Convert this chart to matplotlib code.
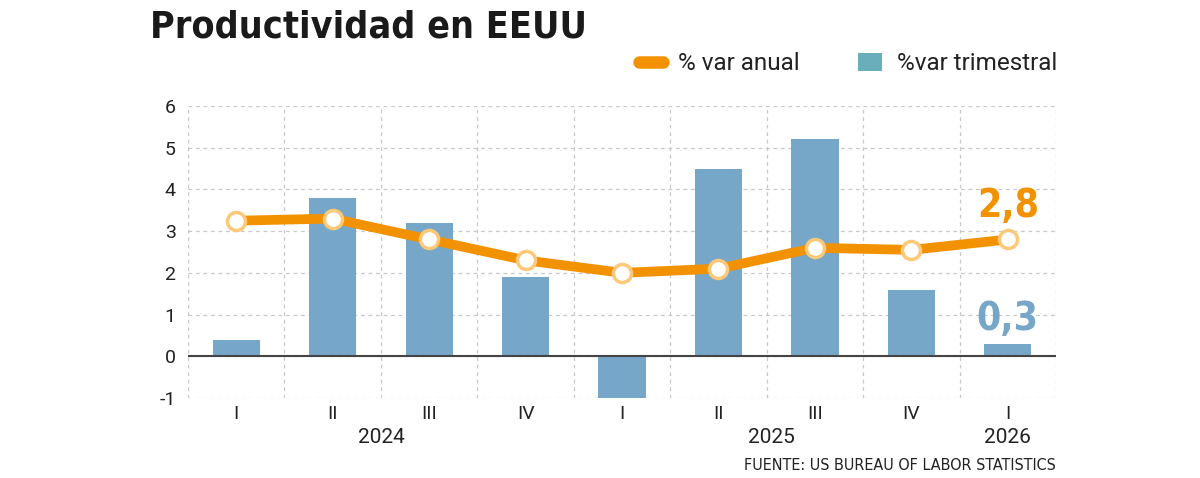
import matplotlib
matplotlib.use("Agg")
import matplotlib.pyplot as plt
from matplotlib.lines import Line2D
from matplotlib.patches import Patch

# datos
quarters = ["I", "II", "III", "IV", "I", "II", "III", "IV", "I"]
years = ["2024", "2025", "2026"]
year_pos = [1.5, 5.55, 8]
trimestral = [0.4, 3.8, 3.2, 1.9, -1.0, 4.5, 5.2, 1.6, 0.3]
anual = [3.25, 3.3, 2.8, 2.3, 2.0, 2.1, 2.6, 2.55, 2.8]

orange = "#F39200"
blue = "#76A7C8"
teal = "#6AADBB"
plt.rcParams["font.family"] = ["Roboto", "DejaVu Sans"]
plt.rcParams["axes.unicode_minus"] = False

fig = plt.figure(figsize=(12, 4.78), dpi=100)
ax = fig.add_axes([0.1567, 0.1674, 0.7233, 0.6109])

x = list(range(len(quarters)))
ax.bar(x, trimestral, width=0.49, color=blue, zorder=2)
ax.axhline(0, color="#444444", lw=1.5, zorder=3)
ax.plot(x, anual, color=orange, lw=7, solid_capstyle="round", zorder=4)
ax.plot(x, anual, "o", ms=13, mfc="white", mec="#FDC878", mew=2.5, zorder=5)

ax.set_xlim(-0.5, 8.5)
ax.set_ylim(-1, 6)
ax.set_yticks(range(-1, 7))
ax.set_xticks(x)
ax.set_xticklabels(quarters)
ax.set_xticks([i - 0.5 for i in range(10)], minor=True)
ax.tick_params(axis="both", which="both", length=0, labelsize=14, colors="#222222")
ax.tick_params(axis="x", pad=5)
ax.tick_params(axis="y", pad=9)
ax.grid(True, axis="y", ls=(0, (3, 3)), color="#c8c8c8", lw=0.9, zorder=0)
ax.grid(True, axis="x", which="minor", ls=(0, (3, 3)), color="#c8c8c8", lw=0.9, zorder=0)
ax.grid(False, axis="x", which="major")
for s in ax.spines.values():
    s.set_visible(False)

for yp, yr in zip(year_pos, years):
    ax.text(yp, -1.95, yr, ha="center", va="center", fontsize=15, color="#222222")

cond = dict(family="DejaVu Sans", fontstretch="condensed", fontweight="bold")
ax.text(8, 3.6, "2,8", ha="center", va="center", fontsize=28, color=orange,
        **cond)
ax.text(8, 0.9, "0,3", ha="center", va="center", fontsize=28, color=blue,
        **cond)

fig.text(150 / 1200, 1 - 27 / 478, "Productividad en EEUU", ha="left", va="center",
         fontsize=27, color="#1a1a1a", **cond)
fig.text(1056 / 1200, 1 - 465 / 478, "FUENTE: US BUREAU OF LABOR STATISTICS",
         ha="right", va="center", fontsize=11.5, color="#222222",
         family="DejaVu Sans", fontstretch="condensed")

handles = [Line2D([0], [0], color=orange, lw=9, solid_capstyle="round"),
           Patch(facecolor=teal)]
leg = fig.legend(handles, ["% var anual", "%var trimestral"], loc="center right",
                 bbox_to_anchor=(1079 / 1200, 1 - 64 / 478), ncol=2, frameon=False,
                 fontsize=17.5, handlelength=1.0, handletextpad=0.6, columnspacing=2.4)
for t in leg.get_texts():
    t.set_color("#222222")

fig.savefig("out.png", dpi=100)
